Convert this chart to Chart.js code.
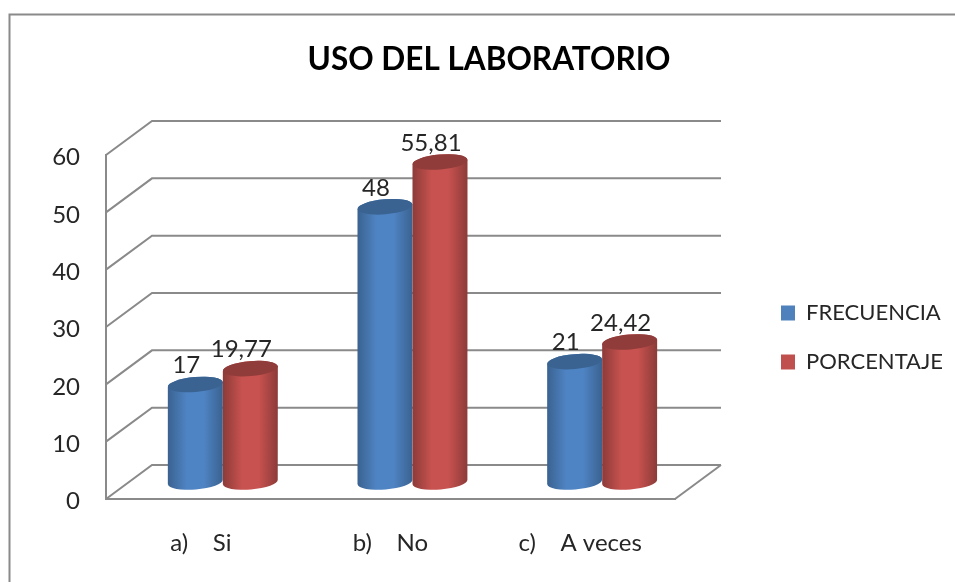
<!DOCTYPE html>
<html><head><meta charset="utf-8">
<style>html,body{margin:0;padding:0;background:#fff;overflow:hidden}canvas{display:block;filter:blur(0.4px)}</style>
<script src="https://cdn.jsdelivr.net/npm/chart.js@4/dist/chart.umd.min.js"></script>
</head><body><canvas id="c" width="955" height="582"></canvas>
<script>
const chartTitle = 'USO DEL LABORATORIO';
const categories = ['a)    Si', 'b)    No', 'c)    A veces'];
const frecuencia = [17, 48, 21];
const porcentaje = [19.77, 55.81, 24.42];
const seriesNames = ['FRECUENCIA', 'PORCENTAJE'];
const tickValues = [0, 10, 20, 30, 40, 50, 60];

const FONT = 'Lato, "Open Sans", sans-serif';
const TEXT = '#262626', LINE = '#8a8a8a';
const WALL_DX = 46, WALL_DY = -34;
const BAR_DX = 22, BAR_DY = -17;
const TILT = 0.085, RY = 7.5;
const SHADES = {
  '#4f81bd': {edge: '#3a6290', mid: '#4f84c4', top: '#3a6391'},
  '#c0504d': {edge: '#8c3b39', mid: '#c8524f', top: '#8f3c3a'}
};

Chart.BarElement.prototype.draw = function (ctx) {
  const {x, y, base, width} = this.getProps(['x', 'y', 'base', 'width']);
  const s = SHADES[this.options.backgroundColor];
  const cx = x + BAR_DX, top = y + BAR_DY, bot = base + BAR_DY, rx = width / 2;
  const t = rx * Math.tan(TILT);
  const g = ctx.createLinearGradient(cx - rx, 0, cx + rx, 0);
  g.addColorStop(0, s.edge); g.addColorStop(0.35, s.mid); g.addColorStop(0.65, s.mid); g.addColorStop(1, s.edge);
  ctx.save();
  ctx.beginPath();
  ctx.moveTo(cx - rx, top + t);
  ctx.lineTo(cx - rx, bot + t);
  ctx.ellipse(cx, bot, rx, RY, -TILT, Math.PI, 0, true);
  ctx.lineTo(cx + rx, top - t);
  ctx.ellipse(cx, top, rx, RY, -TILT, 0, Math.PI, true);
  ctx.closePath();
  ctx.fillStyle = g; ctx.fill();
  ctx.beginPath();
  ctx.ellipse(cx, top, rx, RY, -TILT, 0, Math.PI * 2);
  ctx.fillStyle = s.top; ctx.fill();
  ctx.restore();
};

const frame = {
  id: 'frame',
  beforeDraw(chart) {
    const c = chart.ctx;
    c.save(); c.strokeStyle = LINE; c.lineWidth = 2;
    c.beginPath(); c.moveTo(9.5, 582); c.lineTo(9.5, 14.5); c.lineTo(955, 14.5); c.stroke();
    c.restore();
  },
  beforeLayout(chart) {
    const l = chart.legend;
    if (!l._fixedFit) {
      const fit = l.fit;
      l.fit = function () { fit.call(this); this.width = 280; };
      l._fixedFit = true;
    }
  },
  afterLayout(chart) {
    const l = chart.legend, w = l.width;
    const labelPad = l.options.labels.padding;
    l.left = 781 - labelPad; l.right = l.left + w;
    l.top = 302 - labelPad; l.bottom = l.top + 260;
    chart.titleBlock.left += 11.5; chart.titleBlock.right += 11.5;
  },
  beforeDatasetsDraw(chart) {
    const c = chart.ctx, y = chart.scales.y, a = chart.chartArea;
    c.save(); c.strokeStyle = LINE; c.lineWidth = 2;
    tickValues.forEach(v => {
      const p = y.getPixelForValue(v);
      c.beginPath(); c.moveTo(a.left, p); c.lineTo(a.left + WALL_DX, p + WALL_DY); c.lineTo(a.right + WALL_DX, p + WALL_DY); c.stroke();
    });
    const p0 = y.getPixelForValue(0);
    c.beginPath(); c.moveTo(a.right, p0); c.lineTo(a.right + WALL_DX, p0 + WALL_DY); c.stroke();
    c.restore();
  },
  // Chart.js paints the first dataset last; the red cylinders must overlap the blue ones.
  beforeDatasetDraw(chart, args) {
    if (args.index === 1) return false;
  },
  afterDatasetDraw(chart, args) {
    if (args.index === 0) chart.getDatasetMeta(1).controller.draw();
  },
  afterDatasetsDraw(chart) {
    const c = chart.ctx;
    c.save(); c.fillStyle = TEXT; c.font = '24px ' + FONT; c.textAlign = 'center'; c.textBaseline = 'middle';
    chart.data.datasets.forEach((ds, i) => {
      chart.getDatasetMeta(i).data.forEach((el, j) => {
        c.fillText(String(ds.data[j]).replace('.', ','), el.x + BAR_DX - 9, el.y + BAR_DY - 19);
      });
    });
    c.restore();
  }
};

const chart = new Chart(document.getElementById('c'), {
  type: 'bar',
  data: {
    labels: categories,
    datasets: [
      {label: seriesNames[0], data: frecuencia, backgroundColor: '#4f81bd', clip: false},
      {label: seriesNames[1], data: porcentaje, backgroundColor: '#c0504d', clip: false}
    ]
  },
  options: {
    responsive: false,
    animation: false,
    events: [],
    categoryPercentage: 0.58,
    barPercentage: 1,
    layout: {padding: 0},
    scales: {
      x: {
        grid: {display: false, drawTicks: false},
        border: {color: LINE, width: 2},
        ticks: {color: TEXT, font: {family: FONT, size: 24}, padding: 30, maxRotation: 0},
        afterFit(s) { s.height = 83; }
      },
      y: {
        min: 0, max: 60,
        afterBuildTicks(s) { s.ticks = tickValues.map(v => ({value: v})); },
        grid: {display: false, drawTicks: false},
        border: {color: LINE, width: 2},
        ticks: {color: TEXT, font: {family: FONT, size: 24}, padding: 26, labelOffset: 2.5},
        afterFit(s) { s.width = 106; }
      }
    },
    plugins: {
      title: {
        display: true, text: chartTitle, color: '#000',
        font: {family: FONT, size: 31.5, weight: 'bold'},
        padding: {top: 41, bottom: 76.2}
      },
      legend: {
        position: 'right',
        align: 'start',
        labels: {boxWidth: 14, boxHeight: 15, padding: 27, color: TEXT, font: {family: FONT, size: 22}}
      },
      tooltip: {enabled: false}
    }
  },
  plugins: [frame]
});
</script></body></html>
